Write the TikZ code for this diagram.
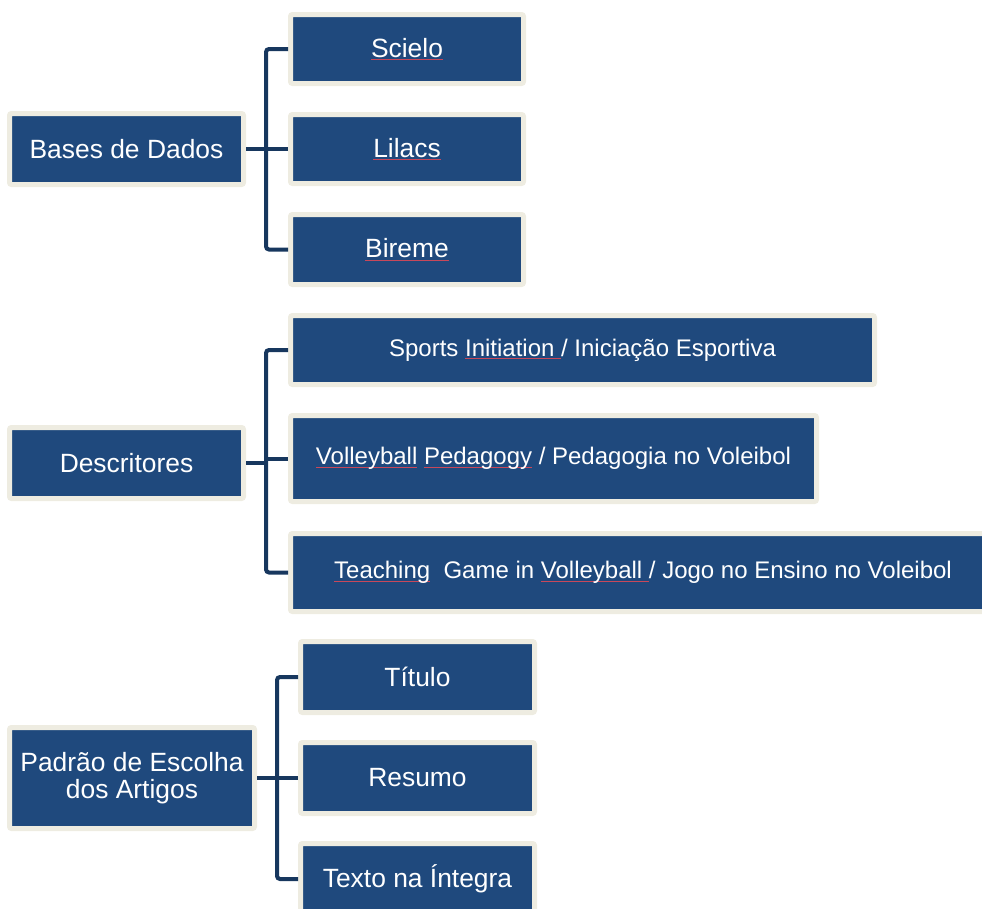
\documentclass[tikz,border=0pt]{standalone}
\usepackage{fontspec}
\setmainfont{Liberation Sans}
\definecolor{boxblue}{HTML}{1F497D}
\definecolor{boxedge}{HTML}{EEECE1}
\definecolor{linkblue}{HTML}{17375E}
\definecolor{squigred}{HTML}{C8485A}
\newcommand\squig[1]{\setbox0\hbox{#1}\rlap{\textcolor{squigred}{\rule[-3pt]{\wd0}{0.8pt}}}\box0\relax}
\tikzset{
  pbox/.style={draw=boxedge, fill=boxblue, line width=5pt, outer sep=2.5pt,
    inner sep=0pt, text=white, align=center, rounded corners=2pt,
    font=\fontsize{26.4}{27.5}\selectfont},
  sbox/.style={pbox, font=\fontsize{24}{26}\selectfont},
  conn/.style={draw=linkblue, line width=4pt, rounded corners=3pt},
}
\begin{document}
\begin{tikzpicture}[x=1pt,y=-1pt]
\useasboundingbox (0,0) rectangle (982,908);
% group 1
\node[pbox, minimum width=234pt, minimum height=71pt] (bases) at (126.5,149) {Bases de Dados};
\node[pbox, minimum width=233pt, minimum height=69pt] (sc) at (407,49) {\squig{Scielo}};
\node[pbox, minimum width=233pt, minimum height=69pt] (li) at (407,149) {\squig{Lilacs}};
\node[pbox, minimum width=233pt, minimum height=70pt] (bi) at (407,249.5) {\squig{Bireme}};
\coordinate (j1) at (266,149);
\draw[conn] (sc.west) -| (j1) |- (bi.west);
\draw[conn] (bases.east) -- (li.west);
% group 2
\node[pbox, minimum width=234pt, minimum height=71pt] (desc) at (126.5,463) {Descritores};
\node[sbox, minimum width=584pt, minimum height=69pt] (sp) at (582.5,350) {Sports \squig{Initiation }/ Iniciação Esportiva};
\node[sbox, minimum width=526pt, minimum height=86pt] (vo) at (553.5,458.5) {\squig{Volleyball} \squig{Pedagogy} / Pedagogia no Voleibol};
\node[sbox, minimum width=705pt, minimum height=78pt] (te) at (643,572.5) {\squig{Teaching}\ \ Game in \squig{Volleyball }/ Jogo no Ensino no Voleibol};
\coordinate (j2) at (266,463);
\draw[conn] (sp.west) -| (j2) |- (te.west);
\draw[conn] (desc.east) -- (j2);
\draw[conn] (j2 |- vo.west) -- (vo.west);
% group 3
\node[pbox, minimum width=245pt, minimum height=101pt] (pad) at (132,778) {Padrão de Escolha\\dos Artigos};
\node[pbox, minimum width=234pt, minimum height=71pt] (ti) at (417.5,677) {Título};
\node[pbox, minimum width=234pt, minimum height=71pt] (re) at (417.5,778) {Resumo};
\node[pbox, minimum width=234pt, minimum height=71pt] (tx) at (417.5,879) {Texto na Íntegra};
\coordinate (j3) at (277,778);
\draw[conn] (ti.west) -| (j3) |- (tx.west);
\draw[conn] (pad.east) -- (re.west);
\end{tikzpicture}
\end{document}
